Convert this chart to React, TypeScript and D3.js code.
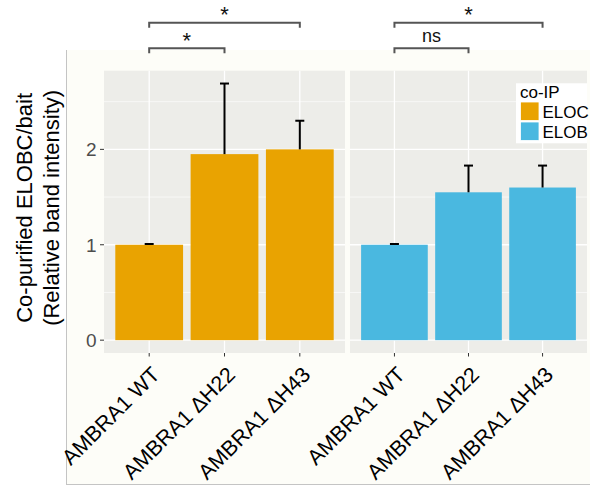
import React from 'react';
import * as d3 from 'd3';

const categories = ['AMBRA1 WT', 'AMBRA1 \u0394H22', 'AMBRA1 \u0394H43'];
const groups = ['ELOC', 'ELOB'];
const elocMeans = [1.0, 1.95, 2.0];
const elocUpper = [1.008, 2.69, 2.3];
const elobMeans = [1.0, 1.55, 1.6];
const elobUpper = [1.008, 1.83, 1.83];
const yTicks = [0, 1, 2];
const yMinor = [0.5, 1.5, 2.5];
// comparisons inside each panel: [from, to, label, level]
const elocTests = [
  { from: 0, to: 1, label: '*', level: 0 },
  { from: 0, to: 2, label: '*', level: 1 },
];
const elobTests = [
  { from: 0, to: 1, label: 'ns', level: 0 },
  { from: 0, to: 2, label: '*', level: 1 },
];

const colors: Record<string, string> = { ELOC: '#E9A301', ELOB: '#4AB8E0' };
const FONT = "'Liberation Sans', Arial, Helvetica, sans-serif";

const W = 590;
const H = 487;
const panelTop = 70.7;
const panelBottom = 353;
const panels = [
  { key: 'ELOC', x0: 104, x1: 345, means: elocMeans, upper: elocUpper, tests: elocTests },
  { key: 'ELOB', x0: 350, x1: 587, means: elobMeans, upper: elobUpper, tests: elobTests },
];

const App = () => {
  const maxTop = d3.max([...elocUpper, ...elobUpper]) as number;
  const pad = maxTop * 0.05;
  const y = d3.scaleLinear().domain([-pad, maxTop + pad]).range([panelBottom, panelTop]);
  const midY = (panelTop + panelBottom) / 2;

  return (
    <div style={{ position: 'absolute', left: 0, top: 0 }}>
      <svg width={W} height={H} style={{ display: 'block', background: '#fff' }} fontFamily={FONT}>
        {/* outer plot background */}
        <rect x={66} y={50} width={W - 66} height={435} fill="#FDFDF8" />
        <line x1={66.5} y1={50} x2={66.5} y2={485} stroke="#C4C4C4" strokeWidth={1} />
        <line x1={66} y1={484.5} x2={W} y2={484.5} stroke="#C4C4C4" strokeWidth={1} />

        {/* y axis title */}
        <text
          transform={`translate(32,${midY - 4}) rotate(-90)`}
          textAnchor="middle"
          fontSize={22}
          fill="#000"
        >
          Co-purified ELOBC/bait
        </text>
        <text
          transform={`translate(59,${midY - 4}) rotate(-90)`}
          textAnchor="middle"
          fontSize={22}
          fill="#000"
        >
          (Relative band intensity)
        </text>

        {/* y tick labels */}
        {yTicks.map((t) => (
          <g key={'yt' + t}>
            <text x={96.5} y={y(t)} dy="0.36em" textAnchor="end" fontSize={19} fill="#4D4D4D">
              {t}
            </text>
            <line x1={100} x2={104} y1={y(t)} y2={y(t)} stroke="#333" strokeWidth={1} />
          </g>
        ))}

        {panels.map((p) => {
          const x = d3.scalePoint<string>().domain(categories).range([p.x0, p.x1]).padding(0.6);
          const bw = x.step() * 0.9;
          return (
            <g key={p.key}>
              <rect x={p.x0} y={panelTop} width={p.x1 - p.x0} height={panelBottom - panelTop} fill="#EDEDE9" />
              {yMinor.map((t) => (
                <line key={'mn' + t} x1={p.x0} x2={p.x1} y1={y(t)} y2={y(t)} stroke="#fff" strokeWidth={0.6} />
              ))}
              {yTicks.map((t) => (
                <line key={'mj' + t} x1={p.x0} x2={p.x1} y1={y(t)} y2={y(t)} stroke="#fff" strokeWidth={1.3} />
              ))}
              {categories.map((c) => (
                <line key={'vx' + c} x1={x(c)} x2={x(c)} y1={panelTop} y2={panelBottom} stroke="#fff" strokeWidth={1.3} />
              ))}
              {/* bars */}
              {categories.map((c, i) => (
                <rect
                  key={'b' + c}
                  x={(x(c) as number) - bw / 2}
                  y={y(p.means[i])}
                  width={bw}
                  height={y(0) - y(p.means[i])}
                  fill={colors[p.key]}
                />
              ))}
              {/* error bars */}
              {categories.map((c, i) => {
                const cx = x(c) as number;
                return (
                  <g key={'e' + c} stroke="#000" strokeWidth={2}>
                    <line x1={cx} x2={cx} y1={y(p.means[i])} y2={y(p.upper[i])} />
                    <line x1={cx - 4.5} x2={cx + 4.5} y1={y(p.upper[i])} y2={y(p.upper[i])} />
                  </g>
                );
              })}
              {/* x ticks and labels */}
              {categories.map((c) => {
                const cx = x(c) as number;
                return (
                  <g key={'xt' + c}>
                    <line x1={cx} x2={cx} y1={panelBottom} y2={panelBottom + 3.5} stroke="#333" strokeWidth={1} />
                    <text
                      transform={`translate(${cx + 1},${panelBottom + 12}) rotate(-45)`}
                      textAnchor="end"
                      dy="0.72em"
                      fontSize={21.5}
                      fill="#000"
                    >
                      {c}
                    </text>
                  </g>
                );
              })}
              {/* significance brackets */}
              {p.tests.map((t) => {
                const xa = x(categories[t.from]) as number;
                const xb = x(categories[t.to]) as number;
                const by = 48.3 - t.level * 25.6;
                return (
                  <g key={'s' + t.to}>
                    <path
                      d={`M${xa},${by + 5} V${by} H${xb} V${by + 5}`}
                      fill="none"
                      stroke="#555"
                      strokeWidth={2}
                    />
                    <text
                      x={(xa + xb) / 2}
                      y={t.label === '*' ? by - 0.5 : by - 6}
                      textAnchor="middle"
                      fontSize={t.label === '*' ? 22 : 18}
                      fill="#111"
                    >
                      {t.label}
                    </text>
                  </g>
                );
              })}
            </g>
          );
        })}

        {/* legend */}
        <g>
          <rect x={516} y={83.3} width={71} height={60} fill="#fff" />
          <text x={520} y={97.5} fontSize={17} fill="#000">co-IP</text>
          {groups.map((g, i) => (
            <g key={'lg' + g}>
              <rect x={520.5} y={102 + i * 20} width={18.5} height={18.5} fill={colors[g]} stroke="#fff" strokeWidth={0.8} />
              <text x={542.5} y={117.5 + i * 20} fontSize={17} fill="#000">{g}</text>
            </g>
          ))}
        </g>
      </svg>
    </div>
  );
};

export default App;
